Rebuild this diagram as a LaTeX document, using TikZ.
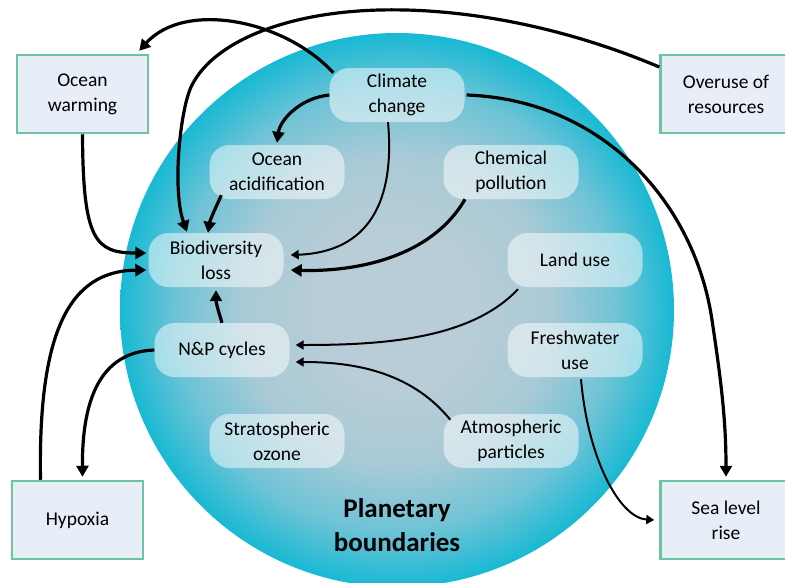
\documentclass[tikz,border=0pt]{standalone}
\usepackage{fontspec}
\setmainfont{Carlito}
\usetikzlibrary{arrows.meta}
\definecolor{pcen}{RGB}{184,205,215}
\definecolor{pmida}{RGB}{168,202,214}
\definecolor{pmidb}{RGB}{110,195,214}
\definecolor{prim}{RGB}{24,185,212}
\definecolor{boxgreen}{RGB}{108,196,160}
\definecolor{boxfill}{RGB}{232,238,248}
\pgfdeclareradialshading{planet}{\pgfpoint{0bp}{0bp}}{color(0bp)=(pcen); color(7bp)=(pcen); color(14bp)=(pmida); color(20bp)=(pmidb); color(25bp)=(prim); color(50bp)=(prim)}
\newcommand\diagfont{\fontsize{19.5}{25}\selectfont}
\newcommand\titlefont{\fontsize{27}{34}\selectfont\bfseries}
\tikzset{
  pill/.style={rounded corners=20pt, fill=white, fill opacity=0.5, text opacity=1,
    minimum width=135pt, minimum height=54pt, align=center, font=\diagfont, inner sep=0pt},
  extbox/.style={draw=boxgreen, line width=2.5pt, fill=boxfill, minimum width=131pt,
    minimum height=78pt, align=center, font=\diagfont, inner sep=0pt},
  thickarr/.style={line width=3.2pt, -{Triangle[length=11pt,width=12pt]}},
  thinarr/.style={line width=2pt, -{Triangle[length=8pt,width=9pt]}}
}
\begin{document}
\begin{tikzpicture}[x=1pt,y=-1pt]
\useasboundingbox (0,0) rectangle (785,582);
\clip (0,0) rectangle (785,582);
\shade[shading=planet] (397,310) circle (277pt);

\node[pill] (cc) at (397,95) {Climate\\change};
\node[pill] (oa) at (277,172) {Ocean\\acidification};
\node[pill] (cp) at (511,172) {Chemical\\pollution};
\node[pill] (bl) at (216,260) {Biodiversity\\loss};
\node[pill] (lu) at (575,260) {Land use};
\node[pill] (np) at (222,350) {N\&P cycles};
\node[pill] (fw) at (575,350) {Freshwater\\use};
\node[pill] (so) at (277,441) {Stratospheric\\ozone};
\node[pill] (ap) at (511,441) {Atmospheric\\particles};

\node[extbox] (ow) at (82.5,94) {Ocean\\warming};
\node[extbox] (or) at (726,94) {Overuse of\\resources};
\node[extbox] (hy) at (77.5,520) {Hypoxia};
\node[extbox] (sl) at (726,520) {Sea level\\rise};

\node[font=\titlefont, align=center, inner sep=0pt] (pb) at (397,525) {Planetary\\boundaries};

% connectors
\draw[thickarr] ([xshift=4pt,yshift=-5pt]cc.north west) .. controls (285,20) and (185,0) .. ([xshift=-10pt,yshift=3pt]ow.north east);
\draw[thickarr] ([yshift=27pt]or.west) .. controls (560,25) and (460,8) .. (380,10)
   .. controls (290,12) and (215,40) .. (192,85)
   .. controls (180,108) and (172,190) .. ([xshift=-29pt,yshift=1pt]bl.north);
\draw[thickarr] (cc.west) .. controls (300,98) and (280,120) .. ([yshift=2pt]oa.north);
\draw[thickarr] ([xshift=12pt,yshift=4pt]oa.south west) .. controls (216,207) and (210,220) .. ([xshift=-8pt]bl.north);
\draw[thinarr] ([xshift=-9pt]cc.south) .. controls (395,200) and (370,252) .. ([xshift=7pt,yshift=5pt]bl.east);
\draw[thickarr] ([xshift=-46pt]cp.south) .. controls (430,260) and (350,272) .. ([xshift=7pt,yshift=-10pt]bl.east);
\draw[thickarr] (ow.south) .. controls (83,240) and (95,253) .. ([xshift=-2pt,yshift=7pt]bl.west);
\draw[thickarr] ([xshift=-37pt]hy.north) .. controls (38,330) and (70,271) .. ([xshift=-2pt,yshift=-10pt]bl.west);
\draw[thickarr] (np.north) .. controls (218,310) and (216,302) .. ([yshift=-3pt]bl.south);
\draw[thickarr] (np.west) .. controls (100,352) and (82,400) .. ([xshift=5pt,yshift=3pt]hy.north);
\draw[thinarr] ([xshift=-57pt,yshift=-2pt]lu.south) .. controls (470,340) and (380,345) .. ([xshift=6pt,yshift=5pt]np.east);
\draw[thinarr] ([xshift=7pt,yshift=-6pt]ap.north west) .. controls (410,370) and (350,362) .. ([xshift=6pt,yshift=-12pt]np.east);
\draw[thickarr] ([xshift=2pt]cc.east) .. controls (605,100) and (695,205) .. (712,320)
   .. controls (721,380) and (726,420) .. ([yshift=3pt]sl.north);
\draw[thinarr] ([xshift=6pt,yshift=-2pt]fw.south) .. controls (588,460) and (620,518) .. ([xshift=-5pt]sl.west);
\end{tikzpicture}
\end{document}
